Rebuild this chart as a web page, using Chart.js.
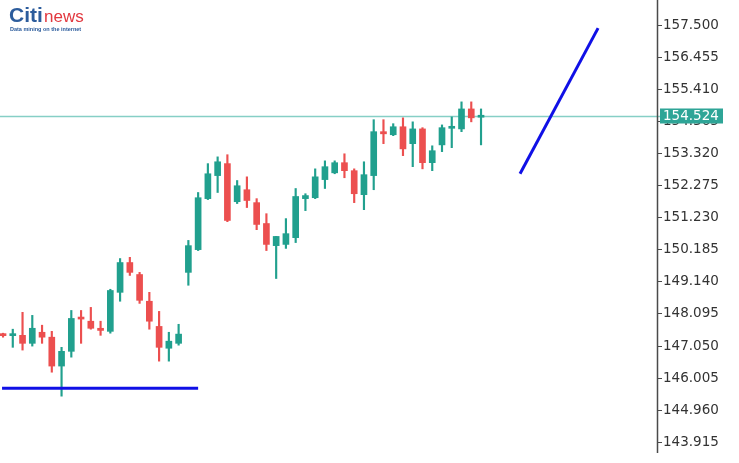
<!DOCTYPE html>
<html>
<head>
<meta charset="utf-8">
<script src="https://cdn.jsdelivr.net/npm/chart.js@4.4.1/dist/chart.umd.min.js"></script>
<style>
  html, body { margin: 0; padding: 0; background: #fff; }
  #wrap { position: relative; width: 739px; height: 463px; }
</style>
</head>
<body>
<div id="wrap"><canvas id="chart" width="739" height="463"></canvas></div>
<script>
// candles, left to right
const opens = [147.41, 147.39, 147.40, 147.14, 147.50, 147.34, 146.40, 146.88, 147.97, 147.86,
    147.63, 147.53, 148.80, 149.77, 149.38, 148.51, 147.69, 146.98, 147.14, 149.45,
    150.19, 151.85, 152.60, 152.99, 151.75, 152.14, 151.72, 151.04, 150.32, 150.36,
    150.58, 151.85, 151.88, 152.47, 152.69, 153.02, 152.76, 151.98, 152.60, 154.03,
    153.93, 154.19, 153.64, 154.12, 153.02, 153.60, 154.14, 154.12, 154.77, 154.50];
const highs = [147.47, 147.60, 148.15, 148.05, 147.73, 147.53, 147.01, 148.21, 148.21, 148.31,
    147.86, 148.90, 149.90, 149.94, 149.45, 148.80, 148.18, 147.50, 147.76, 150.49,
    152.05, 152.99, 153.21, 153.28, 152.44, 152.56, 151.85, 151.36, 150.62, 151.20,
    152.18, 152.01, 152.82, 153.08, 153.08, 153.31, 152.82, 153.05, 154.42, 154.42,
    154.29, 154.48, 154.35, 154.16, 153.57, 154.25, 154.51, 155.00, 155.00, 154.77];
const lows = [147.34, 147.01, 146.92, 147.05, 147.14, 146.20, 145.42, 146.69, 147.14, 147.60,
    147.40, 147.47, 148.51, 149.35, 148.44, 147.60, 146.56, 146.56, 147.08, 149.03,
    150.16, 151.82, 152.05, 151.10, 151.69, 151.56, 150.84, 150.16, 149.25, 150.23,
    150.42, 151.46, 151.85, 152.18, 152.66, 152.53, 151.72, 151.49, 152.14, 153.64,
    153.90, 153.25, 152.89, 152.82, 152.76, 153.38, 153.51, 154.03, 154.35, 153.60];
const closes = [147.39, 147.41, 147.14, 147.63, 147.34, 146.40, 146.88, 147.95, 147.93, 147.63,
    147.56, 148.86, 149.77, 149.45, 148.54, 147.86, 147.01, 147.21, 147.44, 150.32,
    151.88, 152.66, 153.05, 151.14, 152.27, 151.79, 151.01, 150.36, 150.62, 150.71,
    151.92, 151.95, 152.56, 152.89, 153.02, 152.76, 152.01, 152.63, 154.03, 153.96,
    154.19, 153.47, 154.12, 153.02, 153.41, 154.16, 154.17, 154.77, 154.48, 154.52];

const tickLabels = ['157.500', '156.455', '155.410', '154.365', '153.320', '152.275', '151.230',
    '150.185', '149.140', '148.095', '147.050', '146.005', '144.960', '143.915'];

const currentPrice = 154.524;
const supportLine = [{ x: 0.9, y: 145.68 }, { x: 21, y: 145.68 }];
const trendLine = [{ x: 54, y: 152.66 }, { x: 62, y: 157.40 }];

const UP = '#21a08e';
const DOWN = '#ec4f4f';

const idx = opens.map((o, i) => i + 1);
const candleColors = opens.map((o, i) => closes[i] >= o ? UP : DOWN);

const priceLine = {
    id: 'priceLine',
    beforeDatasetsDraw(chart) {
        const { ctx, chartArea } = chart;
        const y = Math.round(chart.scales.y.getPixelForValue(currentPrice)) + 0.5;
        ctx.save();
        ctx.strokeStyle = '#86cfc6';
        ctx.lineWidth = 1.5;
        ctx.beginPath();
        ctx.moveTo(chartArea.left, y);
        ctx.lineTo(chartArea.right + 3, y);
        ctx.stroke();
        ctx.restore();
    },
    afterDraw(chart) {
        const { ctx, chartArea } = chart;
        const y = chart.scales.y.getPixelForValue(currentPrice);
        ctx.save();
        // axis line runs up to the top edge
        ctx.strokeStyle = '#4a4a4a';
        ctx.lineWidth = 1.5;
        ctx.beginPath();
        ctx.moveTo(chartArea.right + 0.5, 0);
        ctx.lineTo(chartArea.right + 0.5, chartArea.bottom);
        ctx.stroke();
        ctx.fillStyle = '#2ea597';
        ctx.fillRect(chartArea.right + 3, y - 8, 63, 15);
        ctx.fillStyle = '#fff';
        ctx.font = '13.5px "DejaVu Sans"';
        ctx.textBaseline = 'middle';
        ctx.fillText(currentPrice.toFixed(3), chartArea.right + 6, y);
        // logo
        ctx.textBaseline = 'alphabetic';
        ctx.fillStyle = '#2c5c9c';
        ctx.font = 'bold 21px "Liberation Sans"';
        ctx.fillText('Citi', 9, 22);
        ctx.fillStyle = '#e2383f';
        ctx.font = '17px "Liberation Sans"';
        ctx.fillText('news', 44, 22);
        ctx.fillStyle = '#2c5c9c';
        ctx.font = 'bold 5.5px "Liberation Sans"';
        ctx.fillText('Data mining on the internet', 10, 31);
        ctx.restore();
    }
};

new Chart(document.getElementById('chart').getContext('2d'), {
    type: 'bar',
    data: {
        datasets: [
            {
                type: 'line',
                data: supportLine,
                borderColor: '#1010e6',
                borderWidth: 3,
                pointRadius: 0,
                order: 0
            },
            {
                type: 'line',
                data: trendLine,
                borderColor: '#1010e6',
                borderWidth: 3,
                pointRadius: 0,
                order: 0
            },
            {
                data: idx.map((x, i) => ({ x, y: [lows[i], highs[i]] })),
                backgroundColor: candleColors,
                barThickness: 1.5,
                grouped: false,
                order: 2
            },
            {
                data: idx.map((x, i) => ({ x, y: [opens[i], closes[i]] })),
                backgroundColor: candleColors,
                barThickness: 6,
                minBarLength: 2,
                grouped: false,
                order: 1
            }
        ]
    },
    options: {
        responsive: false,
        devicePixelRatio: 1,
        animation: false,
        layout: { padding: { left: 0, right: 0, top: 0, bottom: 10 } },
        plugins: { legend: { display: false }, tooltip: { enabled: false } },
        scales: {
            x: {
                type: 'linear',
                display: false,
                offset: false,
                min: 0.69,
                max: 68.04
            },
            y: {
                position: 'right',
                min: 143.57,
                max: 158.02,
                afterBuildTicks(axis) {
                    axis.ticks = tickLabels.map(t => ({ value: parseFloat(t) }));
                },
                afterFit(axis) {
                    axis.width = 82;
                },
                border: { display: false },
                grid: { drawOnChartArea: false, tickLength: 5, color: '#4a4a4a' },
                ticks: {
                    padding: 1,
                    color: '#333',
                    font: { family: 'DejaVu Sans', size: 13.5 },
                    callback: v => v.toFixed(3)
                }
            }
        }
    },
    plugins: [priceLine]
});
</script>
</body>
</html>
